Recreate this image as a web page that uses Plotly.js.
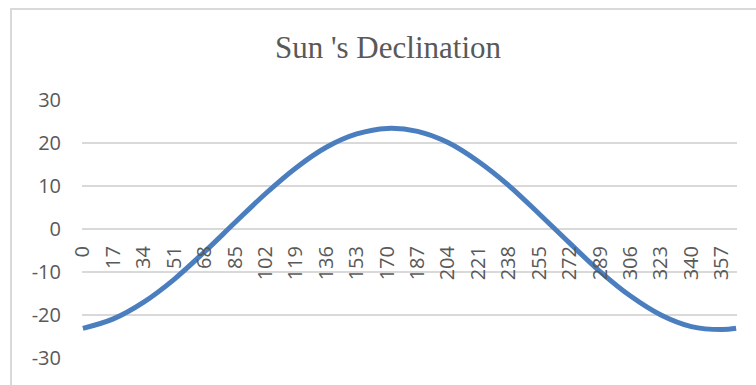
<!DOCTYPE html>
<html>
<head>
<meta charset="utf-8">
<script src="https://cdn.plot.ly/plotly-3.0.1.min.js"></script>
<style>
  html, body { margin: 0; padding: 0; background: #ffffff; overflow: hidden; }
  #frame { position: absolute; left: 10px; top: 8px; width: 800px; height: 420px;
           border-left: 2px solid #d9d9d9; border-top: 2px solid #d9d9d9; }
  #chart { position: absolute; left: 0; top: 0; width: 756px; height: 385px; }
</style>
</head>
<body>
<div id="frame"></div>
<div id="chart"></div>
<script>
// Day of year (category) and sun's declination (degrees)
const days = [0, 17, 34, 51, 68, 85, 102, 119, 136, 153, 170, 187, 204, 221, 238, 255, 272, 289, 306, 323, 340, 357, 365];
const declination = [-23.1, -20.9, -17.0, -11.7, -5.3, 1.5, 8.2, 14.2, 19.0, 22.1, 23.4, 22.7, 20.1, 15.7, 10.1, 3.5, -3.3, -9.9, -15.6, -20.0, -22.7, -23.4, -23.1];
const xTickLabels = [0, 17, 34, 51, 68, 85, 102, 119, 136, 153, 170, 187, 204, 221, 238, 255, 272, 289, 306, 323, 340, 357];
const yTicks = [-30, -20, -10, 0, 10, 20, 30];

const trace = {
  x: days,
  y: declination,
  type: 'scatter',
  mode: 'lines',
  line: { color: '#4a7ebf', width: 5, shape: 'spline', smoothing: 1 },
  hoverinfo: 'skip'
};

const labelFont = { family: '"Open Sans", sans-serif', size: 20, color: '#595959' };

const layout = {
  width: 756,
  height: 385,
  margin: { l: 82, r: 19, t: 100, b: 27, pad: 0 },
  paper_bgcolor: 'rgba(0,0,0,0)',
  plot_bgcolor: 'rgba(0,0,0,0)',
  showlegend: false,
  title: {
    text: "Sun 's Declination",
    font: { family: '"Liberation Serif", serif', size: 31, color: '#595959' },
    x: 388 / 756, xref: 'container', xanchor: 'center',
    y: 1 - 47 / 385, yref: 'container', yanchor: 'middle'
  },
  xaxis: {
    range: [-0.5, 365.5],
    tickmode: 'array',
    tickvals: xTickLabels,
    ticktext: xTickLabels.map(String),
    tickangle: -90,
    tickfont: labelFont,
    ticks: '',
    showgrid: false,
    zeroline: false,
    showline: false,
    anchor: 'free',
    position: 0.5,
    ticklabelstandoff: 12,
    fixedrange: true
  },
  yaxis: {
    range: [-30, 30],
    tickmode: 'array',
    tickvals: yTicks,
    ticktext: yTicks.map(String),
    tickfont: labelFont,
    ticks: '',
    showgrid: true,
    gridcolor: '#d9d9d9',
    gridwidth: 1.3,
    zeroline: false,
    showline: false,
    ticklabelstandoff: 20,
    fixedrange: true
  }
};

Plotly.newPlot('chart', [trace], layout, { displayModeBar: false, staticPlot: true });
</script>
</body>
</html>
